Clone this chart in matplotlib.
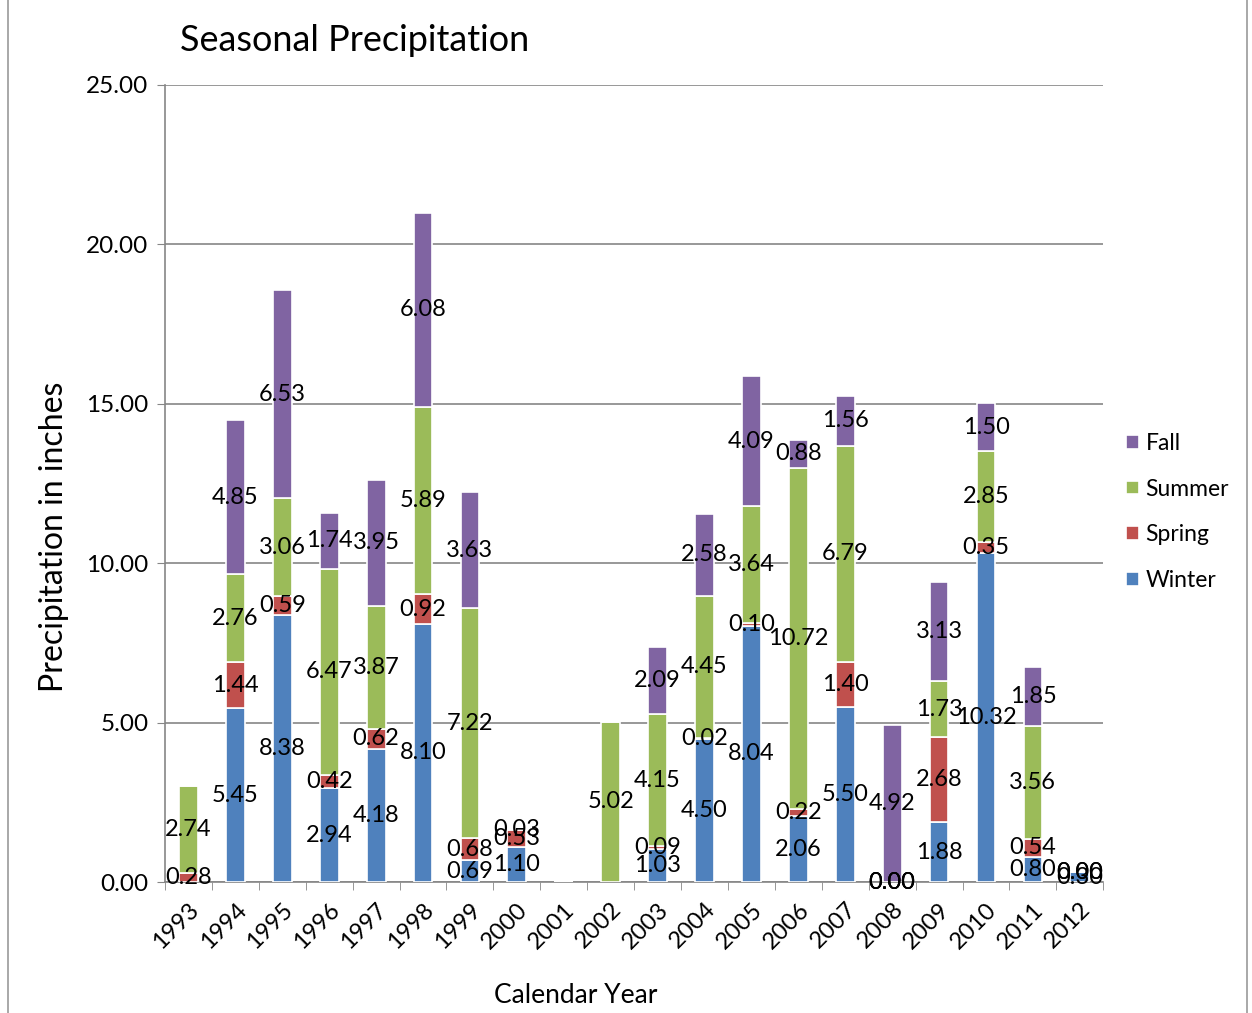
import numpy as np
import matplotlib.pyplot as plt
from matplotlib.patches import Rectangle

plt.rcParams['font.family'] = ['Lato', 'DejaVu Sans']

# dados (nan = sem valor)
years = [str(y) for y in range(1993, 2013)]
nan = np.nan
winter = [nan, 5.45, 8.38, 2.94, 4.18, 8.10, 0.69, 1.10, nan, nan,
          1.03, 4.50, 8.04, 2.06, 5.50, 0.00, 1.88, 10.32, 0.80, 0.30]
spring = [0.28, 1.44, 0.59, 0.42, 0.62, 0.92, 0.68, 0.53, nan, nan,
          0.09, 0.02, 0.10, 0.22, 1.40, 0.00, 2.68, 0.35, 0.54, 0.00]
summer = [2.74, 2.76, 3.06, 6.47, 3.87, 5.89, 7.22, 0.03, nan, 5.02,
          4.15, 4.45, 3.64, 10.72, 6.79, 0.00, 1.73, 2.85, 3.56, 0.00]
fall = [nan, 4.85, 6.53, 1.74, 3.95, 6.08, 3.63, nan, nan, nan,
        2.09, 2.58, 4.09, 0.88, 1.56, 4.92, 3.13, 1.50, 1.85, nan]

series = [('Winter', winter, '#4F81BD'),
          ('Spring', spring, '#C0504D'),
          ('Summer', summer, '#9BBB59'),
          ('Fall', fall, '#8064A2')]

fig = plt.figure(figsize=(12.52, 10.13), dpi=100)
ax = fig.add_axes([0.1318, 0.1293, 0.7494, 0.7868])

x = np.arange(len(years))
bottom = np.zeros(len(years))
handles = []
for name, vals, color in series:
    v = np.array(vals, dtype=float)
    h = np.nan_to_num(v)
    bars = ax.bar(x, h, 0.4, bottom=bottom, color=color, edgecolor='white',
                  linewidth=1.2, label=name, zorder=3)
    handles.append(bars)
    for i, val in enumerate(v):
        if not np.isnan(val):
            ax.text(x[i], bottom[i] + h[i] / 2, f'{val:.2f}', ha='center',
                    va='center', fontsize=17, zorder=5)
    bottom += h

ax.set_xlim(-0.5, len(years) - 0.5)
ax.set_ylim(0, 25)
ax.set_yticks(np.arange(0, 26, 5))
ax.set_yticklabels([f'{t:.2f}' for t in np.arange(0, 26, 5)], fontsize=17.5)
ax.set_xticks(x)
ax.set_xticklabels(years, rotation=45, ha='right', va='top',
                   rotation_mode='anchor', fontsize=17)
ax.set_xticks(np.arange(-0.5, len(years), 1), minor=True)
ax.tick_params(axis='x', which='major', length=0, pad=12)
ax.tick_params(axis='x', which='minor', length=6, color='#868686')
ax.tick_params(axis='y', length=6, color='#868686', pad=6)
ax.grid(axis='y', color='#868686', linewidth=1.2, zorder=0)
for s in ['top', 'right']:
    ax.spines[s].set_visible(False)
for s in ['left', 'bottom']:
    ax.spines[s].set_color('#868686')
    ax.spines[s].set_linewidth(1.2)

ax.set_ylabel('Precipitation in inches', fontsize=23)
ax.yaxis.set_label_coords(-0.102, 0.433)
ax.set_xlabel('Calendar Year', fontsize=19)
ax.xaxis.set_label_coords(0.438, -0.127)
fig.text(0.144, 0.96, 'Seasonal Precipitation', fontsize=25.9, va='center')

leg = fig.legend(handles[::-1], [s[0] for s in series][::-1],
                 loc='center left', bbox_to_anchor=(0.883, 0.4946),
                 frameon=False, fontsize=16.5, handlelength=0.55,
                 handleheight=0.55, labelspacing=1.08, handletextpad=0.3)

fig.patches.append(Rectangle((0.006, -0.01), 0.99, 1.02,
                             transform=fig.transFigure, fill=False,
                             edgecolor='#9a9a9a', linewidth=1.2))

plt.savefig('out.png', dpi=100)
